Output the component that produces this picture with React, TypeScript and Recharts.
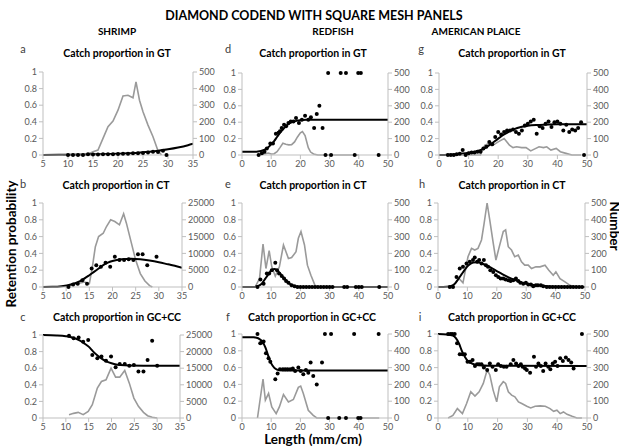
import { ComposedChart, Line, Scatter, XAxis, YAxis } from "recharts";

type Pair = [number, number];
const toPts = (arr: Pair[]) => arr.map(([x, y]) => ({ x, y }));

const FONT = "Lato, 'Open Sans', sans-serif";
const AXIS = "#bfbfbf";
const TICK_TEXT = "#595959";
const GREY_LINE = "#9a9a9a";

const PROB_TICKS = [0, 0.2, 0.4, 0.6, 0.8, 1];
const COUNT_TICKS = [0, 100, 200, 300, 400, 500];
const SHRIMP_COUNT_TICKS = [0, 5000, 10000, 15000, 20000, 25000];
const SHRIMP_X_TICKS = [5, 10, 15, 20, 25, 30, 35];
const FISH_X_TICKS = [0, 10, 20, 30, 40, 50];

// ---- shrimp ----
const aCount: Pair[] = [[9, 0], [13, 0], [14, 5], [15, 20], [16, 30], [17, 100], [18, 170], [19, 205], [20, 270], [21, 355], [22, 360], [23, 345], [23.6, 440], [24.3, 330], [25, 260], [26, 180], [27, 110], [28, 25], [28.7, 0]];
const aFit: Pair[] = [[5, 0], [10, 0.003], [15, 0.008], [20, 0.015], [22, 0.02], [24, 0.028], [26, 0.038], [28, 0.05], [30, 0.068], [32, 0.09], [34, 0.118], [35, 0.135]];
const aPts: Pair[] = [[10, 0], [11, 0], [12, 0], [13, 0], [14, 0.01], [15, 0.005], [16, 0.005], [17, 0.008], [18, 0.01], [19, 0.01], [20, 0.012], [21, 0.015], [22, 0.015], [23, 0.02], [24, 0.02], [25, 0.025], [26, 0.03], [27, 0.04], [28, 0.035], [29, 0.05], [29.7, 0]];

const bCount: Pair[] = [[10, 0], [11, 500], [12, 800], [13, 1200], [14, 1500], [15, 1000], [15.6, 5500], [16.3, 12000], [17, 15000], [18, 16000], [18.7, 18000], [19.6, 20000], [20.5, 19500], [21.5, 18500], [22.4, 21800], [23, 19000], [24, 13500], [25, 8000], [26, 4000], [27, 1800], [28, 400], [28.6, 0]];
const bFit: Pair[] = [[5, 0], [7, 0.002], [9, 0.01], [11, 0.03], [13, 0.07], [15, 0.14], [16, 0.18], [17, 0.22], [18, 0.26], [19, 0.29], [20, 0.31], [22, 0.33], [24, 0.335], [26, 0.33], [28, 0.315], [30, 0.295], [32, 0.27], [34, 0.245], [35, 0.23]];
const bPts: Pair[] = [[10.5, 0], [11.5, 0.03], [12.5, 0.04], [13.5, 0.08], [14.5, 0.04], [15.5, 0.22], [16.5, 0.26], [17.5, 0.24], [18.5, 0.29], [19.5, 0.24], [20.5, 0.36], [21.5, 0.32], [22.5, 0.32], [23.5, 0.33], [24.5, 0.32], [25.5, 0.39], [26.5, 0.39], [27.5, 0.26], [29.5, 0.36]];

const cCount: Pair[] = [[10.7, 1000], [11.7, 1400], [12.7, 1700], [13.8, 1000], [14.9, 2000], [15.8, 4000], [16.9, 9000], [17.8, 11000], [18.8, 11500], [19.9, 15000], [20.9, 12300], [21.8, 12300], [22.9, 14300], [23.9, 10500], [24.9, 6000], [25.9, 3500], [27, 1700], [27.9, 700], [28.9, 200], [30, 0]];
const cFit: Pair[] = [[5, 1], [8, 0.995], [10, 0.985], [12, 0.96], [13, 0.935], [14, 0.9], [15, 0.86], [16, 0.8], [17, 0.75], [18, 0.71], [19, 0.68], [20, 0.66], [21, 0.645], [22, 0.638], [24, 0.632], [27, 0.63], [35, 0.63]];
const cPts: Pair[] = [[10.7, 0.99], [11.7, 0.96], [12.8, 0.97], [13.8, 0.92], [14.9, 0.94], [15.8, 0.76], [16.9, 0.72], [17.8, 0.74], [18.8, 0.69], [19.9, 0.74], [20.9, 0.61], [21.8, 0.65], [22.9, 0.65], [23.9, 0.63], [24.9, 0.64], [25.9, 0.56], [27, 0.56], [27.9, 0.7], [28.9, 0.93], [30, 0.63]];

// ---- redfish ----
const dCount: Pair[] = [[5, 0], [6, 2], [7, 5], [8, 8], [9, 12], [10, 6], [11, 8], [12, 20], [13, 45], [14, 72], [15, 65], [16, 62], [17, 63], [18, 80], [19, 110], [20, 135], [20.7, 143], [21.6, 118], [22.7, 45], [23.5, 18], [24.5, 6], [26, 0], [40, 0]];
const dFit: Pair[] = [[0, 0.04], [5, 0.04], [6, 0.045], [7, 0.055], [8, 0.07], [9, 0.095], [10, 0.13], [11, 0.17], [12, 0.22], [13, 0.27], [14, 0.31], [15, 0.35], [16, 0.38], [17, 0.4], [18, 0.41], [19, 0.42], [20, 0.425], [22, 0.43], [50, 0.43]];
const dPts: Pair[] = [[5.7, 0], [6.8, 0.02], [7.7, 0.04], [8.5, 0.08], [9.7, 0.14], [10.6, 0.14], [11.6, 0.26], [12.5, 0.27], [13, 0.29], [13.6, 0.33], [14.4, 0.37], [15.1, 0.35], [15.9, 0.39], [16.7, 0.41], [17.6, 0.41], [18.5, 0.45], [19.5, 0.39], [20.5, 0.43], [21.6, 0.48], [22.7, 0.43], [23.6, 0.46], [24.7, 0.33], [25.6, 0.5], [26.5, 0.6], [27.6, 0.33], [28.6, 0], [29.5, 1], [30.5, 0], [33.8, 1], [35.6, 1], [38.6, 0], [39.8, 1], [40.7, 1], [46.8, 0]];

const eCount: Pair[] = [[4.5, 0], [6, 50], [7.2, 256], [8.2, 110], [9.3, 216], [10.2, 120], [11.4, 65], [12.8, 120], [14.2, 250], [15.9, 170], [17, 175], [18.5, 210], [19.3, 290], [20.2, 330], [21.4, 250], [22.4, 130], [23.6, 70], [25, 10], [26, 0]];
const eFit: Pair[] = [[0, 0], [4, 0], [5, 0.005], [6, 0.02], [7, 0.05], [8, 0.1], [9, 0.15], [10, 0.195], [11, 0.215], [12, 0.2], [13, 0.165], [14, 0.12], [15, 0.08], [16, 0.045], [17, 0.025], [18, 0.01], [19, 0.004], [20, 0], [50, 0]];
const ePts: Pair[] = [[5.3, 0], [6.3, 0.09], [7.4, 0.04], [8.5, 0.16], [9.3, 0.16], [10.2, 0.2], [11.4, 0.29], [12, 0.2], [12.7, 0.16], [13.6, 0.13], [14.4, 0.1], [15.1, 0.07], [15.9, 0.05], [17, 0.02], [18, 0.01], [19, 0], [20, 0], [21, 0], [22, 0], [23, 0], [24, 0], [25, 0], [26, 0], [27, 0], [28, 0], [29, 0], [30, 0], [31, 0], [35, 0], [36, 0], [39, 0], [40, 0], [41, 0], [47, 0]];

const fCount: Pair[] = [[5.3, 0], [7.2, 232], [8, 106], [9.1, 146], [10.2, 66], [11.7, 26], [12.8, 66], [14.2, 140], [15.9, 96], [17.6, 110], [19.3, 182], [20.1, 190], [21, 146], [22.7, 46], [24.4, 16], [25.6, 0], [47, 0]];
const fFit: Pair[] = [[0, 0.96], [4, 0.96], [5, 0.955], [6, 0.94], [7, 0.91], [8, 0.84], [9, 0.74], [10, 0.65], [11, 0.6], [12, 0.575], [13, 0.567], [15, 0.565], [50, 0.565]];
const fPts: Pair[] = [[5.3, 1], [6.25, 0.89], [6.8, 0.9], [7.4, 0.91], [8.2, 0.77], [9.1, 0.71], [9.7, 0.67], [11.4, 0.46], [12.2, 0.53], [13, 0.58], [14, 0.58], [14.8, 0.58], [15.6, 0.58], [16.5, 0.58], [17.4, 0.59], [18.2, 0.56], [19.3, 0.6], [20.1, 0.56], [21, 0.52], [21.9, 0.57], [22.7, 0.54], [23.5, 0.66], [24.4, 0.5], [25.6, 0.4], [27.4, 0.66], [28.4, 1], [29.5, 0], [30.5, 1], [33.3, 0], [35.6, 0], [38.4, 1], [39.8, 0], [40.6, 0], [46.8, 1]];

// ---- american plaice ----
const gCount: Pair[] = [[4, 0], [14, 0], [15.5, 60], [17, 70], [17.8, 58], [18.7, 65], [20, 80], [22, 100], [23.8, 60], [25, 45], [26.2, 50], [27.9, 45], [29.4, 45], [31, 25], [32.2, 36], [33.8, 50], [35.3, 45], [36.4, 50], [37.8, 30], [39.6, 40], [41, 20], [42.9, 10], [44.9, 0], [48, 0]];
const gFit: Pair[] = [[0, 0], [3, 0.003], [6, 0.01], [9, 0.02], [12, 0.04], [15, 0.075], [17, 0.12], [20, 0.2], [22, 0.25], [25, 0.31], [28, 0.345], [30, 0.356], [33, 0.365], [36, 0.37], [40, 0.375], [50, 0.375]];
const gPts: Pair[] = [[3, 0], [4, 0], [5, 0], [6, 0.01], [7, 0.015], [8, 0.06], [9, 0], [10, 0.02], [11, 0.03], [12, 0.03], [13, 0.04], [14, 0.04], [15, 0.08], [16, 0.1], [17, 0.16], [18, 0.13], [19, 0.22], [20, 0.28], [21, 0.25], [22, 0.28], [23, 0.3], [24, 0.3], [25, 0.31], [26, 0.28], [27, 0.26], [28, 0.3], [29, 0.36], [30, 0.38], [31, 0.41], [32, 0.43], [33, 0.26], [34, 0.35], [35, 0.33], [36, 0.38], [37, 0.41], [38, 0.34], [39, 0.4], [40, 0.41], [41, 0.38], [42, 0.3], [43, 0.37], [44, 0.28], [45, 0.31], [46, 0.3], [47, 0.33], [48, 0.4], [49, 0]];

const hCount: Pair[] = [[4, 0], [5.7, 20], [7.2, 50], [8.5, 25], [10.2, 180], [11.4, 230], [12.5, 220], [13.6, 230], [14.8, 280], [15.7, 380], [16.7, 500], [17.6, 400], [18.8, 260], [19.7, 160], [20.7, 230], [22.2, 330], [23, 340], [23.9, 240], [25, 220], [26.1, 180], [27.3, 190], [28.4, 150], [29.5, 130], [30.7, 130], [31.8, 110], [33.3, 120], [34.7, 120], [36.4, 130], [37.7, 100], [39.2, 70], [40.1, 90], [41.5, 50], [43.2, 30], [44.9, 10], [46.6, 0]];
const hFit: Pair[] = [[0, 0], [3, 0.003], [5, 0.02], [6, 0.05], [7, 0.1], [8, 0.15], [9, 0.2], [10, 0.245], [11, 0.275], [12, 0.29], [13, 0.295], [14, 0.29], [15, 0.28], [16, 0.265], [18, 0.23], [20, 0.19], [22, 0.15], [24, 0.115], [26, 0.085], [28, 0.06], [30, 0.04], [32, 0.027], [35, 0.015], [38, 0.007], [42, 0.002], [50, 0]];
const hPts: Pair[] = [[4, 0], [5.1, 0], [6.3, 0.12], [7.4, 0.22], [8.5, 0.24], [9.7, 0.28], [10.8, 0.3], [11.9, 0.32], [12.5, 0.35], [13.3, 0.3], [14, 0.32], [14.8, 0.28], [15.6, 0.32], [16.3, 0.26], [17, 0.24], [17.8, 0.2], [18.8, 0.18], [19.7, 0.14], [20.5, 0.12], [21.3, 0.1], [22.2, 0.1], [23, 0.09], [23.9, 0.08], [24.7, 0.07], [25.6, 0.08], [26.5, 0.1], [27.3, 0.07], [28, 0.05], [29, 0.04], [29.9, 0.05], [30.7, 0.03], [31.6, 0.03], [32.4, 0.01], [33.3, 0.02], [34, 0.02], [35, 0.02], [35.8, 0.01], [37, 0], [38, 0], [39, 0], [40, 0], [41, 0], [42, 0], [43, 0], [44, 0], [45, 0], [46, 0], [47, 0], [48, 0], [49, 0]];

const iCount: Pair[] = [[3.4, 0], [5, 15], [6.5, 56], [8.2, 26], [9.6, 86], [11, 156], [12.4, 130], [13.8, 156], [15.2, 206], [16.5, 286], [17.4, 256], [18.5, 166], [19.7, 96], [20.6, 186], [21.9, 216], [22.7, 206], [23.6, 156], [24.7, 136], [25.8, 126], [27, 96], [28.1, 86], [29.8, 70], [31.1, 60], [32.6, 70], [34.3, 72], [36, 70], [37.6, 56], [38.8, 40], [39.9, 46], [41, 26], [42.1, 36], [43.3, 22], [45, 10], [46.6, 0], [48.3, 0]];
const iFit: Pair[] = [[0, 1], [3, 0.995], [5, 0.98], [6, 0.95], [7, 0.89], [8, 0.8], [9, 0.73], [10, 0.68], [11, 0.655], [12, 0.64], [14, 0.628], [17, 0.622], [50, 0.62]];
const iPts: Pair[] = [[3.4, 1], [4.2, 1], [4.8, 1], [5.6, 1], [6.4, 0.89], [7.3, 0.76], [8.2, 0.76], [9, 0.76], [9.9, 0.67], [10.7, 0.67], [11.6, 0.69], [12.4, 0.62], [13.1, 0.64], [13.8, 0.64], [14.6, 0.64], [15.4, 0.6], [16.5, 0.57], [17.4, 0.65], [18.3, 0.61], [19.4, 0.57], [20.2, 0.64], [21.1, 0.62], [22.1, 0.61], [23, 0.61], [24.4, 0.64], [25.3, 0.69], [26.2, 0.65], [27, 0.62], [27.8, 0.64], [28.4, 0.61], [29.2, 0.59], [29.8, 0.57], [30.9, 0.54], [32.2, 0.73], [32.9, 0.61], [33.7, 0.65], [34.5, 0.62], [35.3, 0.56], [36.1, 0.65], [37, 0.61], [37.7, 0.58], [38.5, 0.65], [39.3, 0.67], [40.1, 0.62], [41, 0.71], [41.9, 0.68], [42.9, 0.72], [43.8, 0.69], [44.7, 0.66], [45.5, 0.59], [48.3, 1]];

type PanelProps = {
  L: number; R: number; T: number; B: number;
  shrimp?: boolean; bigCount?: boolean;
  count: Pair[]; fit: Pair[]; pts: Pair[];
};

const tickStyle = { fontSize: 9, fill: TICK_TEXT, fontFamily: FONT };

function Dot(p: any) {
  return <circle cx={p.cx} cy={p.cy} r={2} fill="#000" />;
}

function Panel({ L, R, T, B, shrimp, bigCount, count, fit, pts }: PanelProps) {
  const leftW = 30;
  const rightW = bigCount ? 36 : 28;
  const top = 6;
  const xH = 20;
  const w = leftW + (R - L) + rightW;
  const h = top + (B - T) + xH;
  return (
    <div style={{ position: "absolute", left: L - leftW, top: T - top, width: w, height: h }}>
      <ComposedChart width={w} height={h} margin={{ top, right: 0, bottom: 0, left: 0 }}>
        <XAxis
          type="number" dataKey="x" height={xH}
          domain={shrimp ? [5, 35] : [0, 50]}
          ticks={shrimp ? SHRIMP_X_TICKS : FISH_X_TICKS}
          allowDataOverflow interval={0}
          stroke={AXIS} tickSize={4} tick={tickStyle}
        />
        <YAxis
          yAxisId="p" width={leftW} domain={[0, 1]} ticks={PROB_TICKS} interval={0}
          stroke={AXIS} tickSize={4} tick={tickStyle}
        />
        <YAxis
          yAxisId="n" orientation="right" width={rightW}
          domain={[0, bigCount ? 25000 : 500]} ticks={bigCount ? SHRIMP_COUNT_TICKS : COUNT_TICKS} interval={0}
          stroke={AXIS} tickSize={4} tick={tickStyle}
        />
        <Line yAxisId="n" data={toPts(count)} dataKey="y" type="linear" stroke={GREY_LINE} strokeWidth={1.6} dot={false} isAnimationActive={false} />
        <Line yAxisId="p" data={toPts(fit)} dataKey="y" type="monotone" stroke="#000" strokeWidth={2} dot={false} isAnimationActive={false} />
        <Scatter yAxisId="p" data={toPts(pts)} dataKey="y" shape={Dot} isAnimationActive={false} />
      </ComposedChart>
    </div>
  );
}

function Text({ x, y, children, size = 10, bold = false, rotate = 0, color = "#000" }: any) {
  return (
    <div
      style={{
        position: "absolute", left: x, top: y, whiteSpace: "nowrap",
        transform: `translate(-50%, -50%) rotate(${rotate}deg)`,
        fontSize: size, fontWeight: bold ? 700 : 400, color, fontFamily: FONT, lineHeight: 1,
      }}
    >
      {children}
    </div>
  );
}

export default function App() {
  return (
    <div style={{ position: "absolute", left: 0, top: 0, width: 619, height: 447, background: "#fff", overflow: "hidden", fontFamily: FONT }}>
      <Text x={314} y={16} size={12.5} bold>DIAMOND CODEND WITH SQUARE MESH PANELS</Text>
      <Text x={117} y={31} size={10} bold>SHRIMP</Text>
      <Text x={333} y={31} size={10} bold>REDFISH</Text>
      <Text x={476} y={31} size={10} bold>AMERICAN PLAICE</Text>

      <Text x={23} y={48} size={11} color="#404040">a</Text>
      <Text x={117} y={53} size={10.5} bold>Catch proportion in GT</Text>
      <Text x={228} y={48} size={11} color="#404040">d</Text>
      <Text x={313} y={53} size={10.5} bold>Catch proportion in GT</Text>
      <Text x={421} y={48} size={11} color="#404040">g</Text>
      <Text x={512} y={53} size={10.5} bold>Catch proportion in GT</Text>

      <Text x={23} y={183} size={11} color="#404040">b</Text>
      <Text x={116} y={185} size={10.5} bold>Catch proportion in CT</Text>
      <Text x={228} y={183} size={11} color="#404040">e</Text>
      <Text x={313} y={185} size={10.5} bold>Catch proportion in CT</Text>
      <Text x={422} y={183} size={11} color="#404040">h</Text>
      <Text x={512} y={185} size={10.5} bold>Catch proportion in CT</Text>

      <Text x={23} y={316} size={11} color="#404040">c</Text>
      <Text x={117} y={317} size={10.5} bold>Catch proportion in GC+CC</Text>
      <Text x={228} y={316} size={11} color="#404040">f</Text>
      <Text x={312} y={317} size={10.5} bold>Catch proportion in GC+CC</Text>
      <Text x={420} y={316} size={11} color="#404040">i</Text>
      <Text x={512} y={317} size={10.5} bold>Catch proportion in GC+CC</Text>

      <Panel L={43} R={193} T={72} B={155} shrimp count={aCount} fit={aFit} pts={aPts} />
      <Panel L={242} R={388} T={73} B={155} count={dCount} fit={dFit} pts={dPts} />
      <Panel L={439} R={587} T={73} B={155} count={gCount} fit={gFit} pts={gPts} />

      <Panel L={43} R={182} T={203} B={287} shrimp bigCount count={bCount} fit={bFit} pts={bPts} />
      <Panel L={242} R={388} T={203} B={287} count={eCount} fit={eFit} pts={ePts} />
      <Panel L={438} R={585} T={203} B={287} count={hCount} fit={hFit} pts={hPts} />

      <Panel L={43} R={180} T={335} B={418} shrimp bigCount count={cCount} fit={cFit} pts={cPts} />
      <Panel L={242} R={388} T={334} B={418} count={fCount} fit={fFit} pts={fPts} />
      <Panel L={438} R={587} T={334} B={418} count={iCount} fit={iFit} pts={iPts} />

      <Text x={12} y={244} size={13.5} bold rotate={-90}>Retention probability</Text>
      <Text x={614} y={226} size={13.5} bold rotate={90}>Number</Text>
      <Text x={313} y={440} size={13.5} bold>Length (mm/cm)</Text>
    </div>
  );
}
